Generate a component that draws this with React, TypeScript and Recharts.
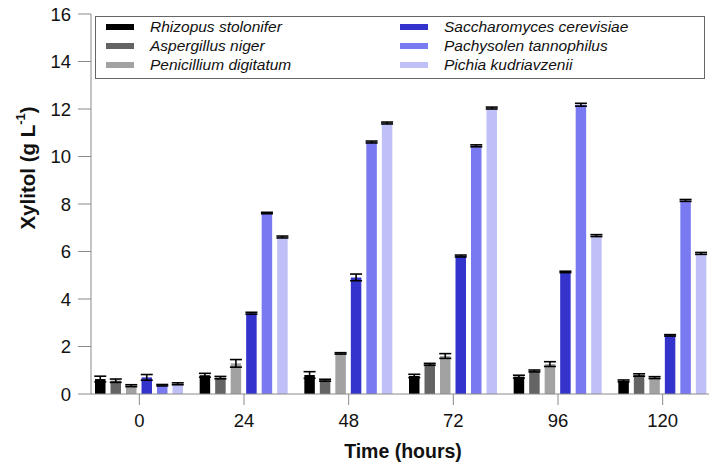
import { BarChart, Bar, XAxis, YAxis, ErrorBar, Label } from 'recharts';

const hours = ['0', '24', '48', '72', '96', '120'];

const rhizopus = [0.63, 0.79, 0.8, 0.76, 0.73, 0.55];
const rhizopusErr = [0.12, 0.08, 0.14, 0.07, 0.06, 0.04];
const aspergillus = [0.56, 0.69, 0.58, 1.25, 0.97, 0.8];
const aspergillusErr = [0.07, 0.05, 0.04, 0.04, 0.04, 0.05];
const penicillium = [0.35, 1.29, 1.71, 1.6, 1.26, 0.69];
const penicilliumErr = [0.04, 0.16, 0.03, 0.1, 0.1, 0.04];
const saccharomyces = [0.7, 3.4, 4.91, 5.81, 5.14, 2.47];
const saccharomycesErr = [0.12, 0.04, 0.14, 0.04, 0.03, 0.03];
const pachysolen = [0.37, 7.62, 10.61, 10.45, 12.18, 8.15];
const pachysolenErr = [0.03, 0.03, 0.04, 0.04, 0.06, 0.04];
const pichia = [0.43, 6.61, 11.41, 12.04, 6.67, 5.92];
const pichiaErr = [0.04, 0.04, 0.04, 0.04, 0.04, 0.04];

const yTicks = [0, 2, 4, 6, 8, 10, 12, 14, 16];

const SERIES = [
  { key: 'rhizopus', name: 'Rhizopus stolonifer', color: '#000000', values: rhizopus, errs: rhizopusErr },
  { key: 'aspergillus', name: 'Aspergillus niger', color: '#646464', values: aspergillus, errs: aspergillusErr },
  { key: 'penicillium', name: 'Penicillium digitatum', color: '#a2a2a2', values: penicillium, errs: penicilliumErr },
  { key: 'saccharomyces', name: 'Saccharomyces cerevisiae', color: '#3434cc', values: saccharomyces, errs: saccharomycesErr },
  { key: 'pachysolen', name: 'Pachysolen tannophilus', color: '#7979f2', values: pachysolen, errs: pachysolenErr },
  { key: 'pichia', name: 'Pichia kudriavzenii', color: '#c0c0f8', values: pichia, errs: pichiaErr },
];

const data = hours.map((h, i) => {
  const row: Record<string, string | number> = { hour: h };
  SERIES.forEach((s) => {
    row[s.key] = s.values[i];
    row[s.key + 'Err'] = s.errs[i];
  });
  return row;
});

const FONT = 'Liberation Sans, Arial, sans-serif';
const AXIS = '#8a8a8a';

// legend box sits over the top of the plot, so it is drawn outside the chart layout
const LegendBox = () => {
  const cols = [SERIES.slice(0, 3), SERIES.slice(3)];
  return (
    <div
      style={{
        position: 'absolute',
        left: 95,
        top: 16,
        border: '1px solid #666',
        width: 610,
        height: 63,
        display: 'flex',
        background: '#fff',
        boxSizing: 'border-box',
        paddingTop: 0,
      }}
    >
      {cols.map((col, ci) => (
        <div key={ci} style={{ marginLeft: ci === 0 ? 10 : 24, width: 270 }}>
          {col.map((s) => (
            <div key={s.key} style={{ display: 'flex', alignItems: 'center', height: 19 }}>
              <span style={{ width: 28, height: 6, background: s.color, display: 'inline-block' }} />
              <span
                style={{
                  marginLeft: 16,
                  fontFamily: FONT,
                  fontStyle: 'italic',
                  fontSize: 15.5,
                  color: '#111',
                }}
              >
                {s.name}
              </span>
            </div>
          ))}
        </div>
      ))}
    </div>
  );
};

const YTitle = () => (
  <text
    x={27}
    y={168}
    transform="rotate(-90, 27, 168)"
    textAnchor="middle"
    dominantBaseline="central"
    fontFamily={FONT}
    fontWeight="bold"
    fontSize={20.5}
    fill="#111"
  >
    Xylitol (g L
    <tspan fontSize={13} dy={-7}>-1</tspan>
    <tspan dy={7}>)</tspan>
  </text>
);

export default function App() {
  return (
    <div style={{ position: 'absolute', left: 0, top: 0, width: 709, height: 467, overflow: 'hidden', background: '#fff' }}>
      <BarChart
        width={730}
        height={467}
        data={data}
        margin={{ top: 14, right: 15, bottom: 0, left: 0 }}
        barSize={10.5}
        barGap={5}
      >
        <XAxis
          xAxisId="top"
          orientation="top"
          dataKey="hour"
          tick={false}
          tickLine={false}
          height={0}
          stroke={AXIS}
          padding={{ left: -4, right: 0 }}
        />
        <XAxis
          dataKey="hour"
          height={73}
          tickSize={11}
          tickMargin={9}
          stroke={AXIS}
          tick={{ fill: '#111', fontSize: 18.5, fontFamily: FONT }}
          padding={{ left: -4, right: 0 }}
        >
          <Label
            value="Time (hours)"
            position="insideBottom"
            offset={9}
            style={{ fontFamily: FONT, fontWeight: 'bold', fontSize: 19.5, fill: '#111' }}
          />
        </XAxis>
        <YAxis
          width={91}
          domain={[0, 16]}
          ticks={yTicks}
          tickSize={13}
          tickMargin={7}
          stroke={AXIS}
          interval={0}
          tick={{ fill: '#111', fontSize: 18.5, fontFamily: FONT }}
        >
          <Label content={() => <YTitle />} />
        </YAxis>
        {SERIES.map((s) => (
          <Bar key={s.key} dataKey={s.key} name={s.name} fill={s.color} isAnimationActive={false}>
            <ErrorBar dataKey={s.key + 'Err'} width={6} stroke="#000" strokeWidth={1.6} isAnimationActive={false} />
          </Bar>
        ))}
      </BarChart>
      <LegendBox />
    </div>
  );
}
